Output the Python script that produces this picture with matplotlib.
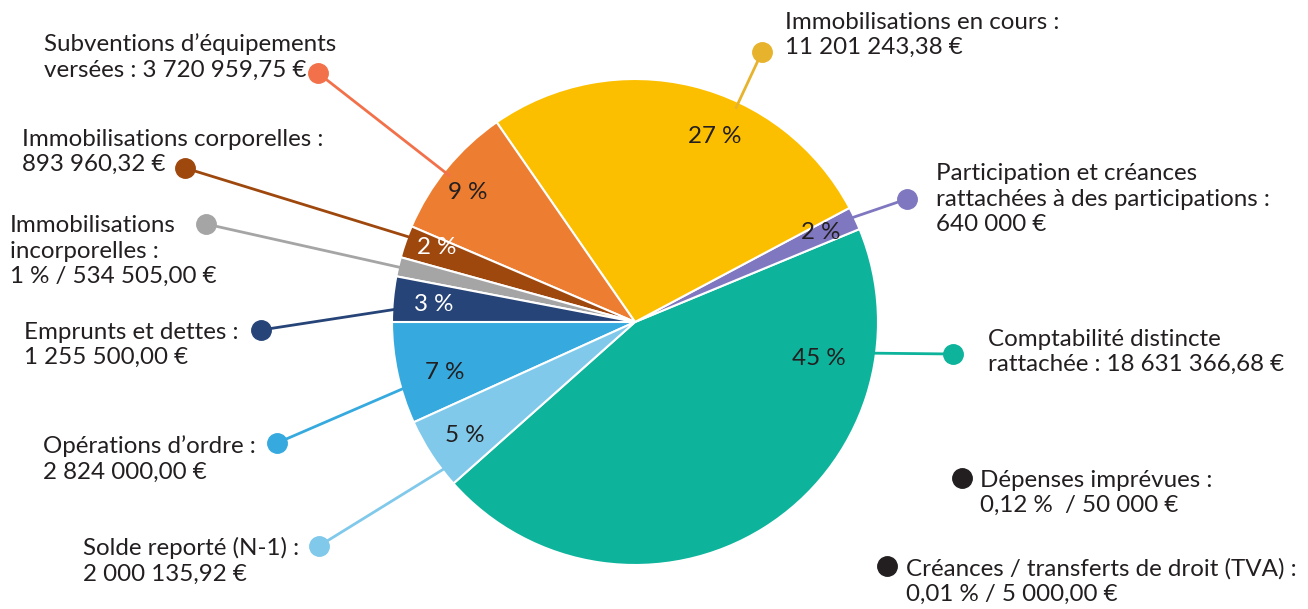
import numpy as np
import matplotlib
matplotlib.use("Agg")
import matplotlib.pyplot as plt

plt.rcParams['font.family'] = ['Lato', 'DejaVu Sans']

# data (pie order, counterclockwise starting with the big green slice)
names = [
    "Comptabilité distincte\nrattachée : 18 631 366,68 €",
    "Participation et créances\nrattachées à des participations :\n640 000 €",
    "Immobilisations en cours :\n11 201 243,38 €",
    "Subventions d’équipements\nversées : 3 720 959,75 €",
    "Immobilisations corporelles :\n893 960,32 €",
    "Immobilisations\nincorporelles :\n1 % / 534 505,00 €",
    "Emprunts et dettes :\n1 255 500,00 €",
    "Opérations d’ordre :\n2 824 000,00 €",
    "Solde reporté (N-1) :\n2 000 135,92 €",
]
values = [18631366.68, 640000.00, 11201243.38, 3720959.75, 893960.32,
          534505.00, 1255500.00, 2824000.00, 2000135.92]

# tiny items not visible in the pie
extra_names = ["Dépenses imprévues :\n0,12 %  / 50 000 €",
               "Créances / transferts de droit (TVA) :\n0,01 % / 5 000,00 €"]
extra_values = [50000.00, 5000.00]

colors = ["#0DB39B", "#7F78C0", "#FCBF00", "#ED7D31", "#9E480E",
          "#A5A5A5", "#264478", "#36AADE", "#80C9EB"]
dot_colors = ["#0DB39B", "#7F78C0", "#E8B32C", "#F2714A", "#9E480E",
              "#A5A5A5", "#264478", "#36AADE", "#80C9EB"]
pct_colors = ["#231F20", "#231F20", "#231F20", "#231F20", "white",
              None, "white", "#231F20", "#231F20"]

# layout (image pixel coords, y down)
W, H = 1308, 609
cx, cy, R = 635, 322, 243
text_xy = [(988, 352), (936, 199), (785, 35), (44, 57), (22, 152),
           (10, 251), (24, 345), (43, 459), (83, 561)]
dot_xy = [(953, 354), (907, 199), (762, 52), (318, 73), (185, 168),
          (206, 224), (261, 330), (277, 443), (319, 546)]
line_frac = [0.813, 0.6, 0.38, 0.53, 0.32, 0.51, 0.70, 0.65, 0.77]
pct_frac = [0.79, 0.59, 0.40, 0.55, 0.34, 0.5, 0.53, 0.61, 0.54]
pct_rad = [0.77, 0.85, 0.83, 0.87, 0.87, 0.85, 0.83, 0.81, 0.84]
extra_dot = [(962, 478), (887, 566)]
extra_text = [(980, 493), (906, 581)]

TXT = "#231F20"
FS = 17.4

total = sum(values) + sum(extra_values)
startangle = -138.35

fig = plt.figure(figsize=(W / 100, H / 100), dpi=100)
ax = fig.add_axes([0, 0, 1, 1])
wedges, _ = ax.pie(values, colors=colors, startangle=startangle, counterclock=True,
                   center=(cx, H - cy), radius=R,
                   wedgeprops=dict(edgecolor="white", linewidth=1.5))
ax.set_xlim(0, W)
ax.set_ylim(0, H)
ax.set_aspect("equal")
ax.axis("off")


def polar(theta, r):
    t = np.deg2rad(theta)
    return cx + r * R * np.cos(t), (H - cy) + r * R * np.sin(t)


for i, w in enumerate(wedges):
    span = w.theta2 - w.theta1
    # connector line + dot
    lx, ly = polar(w.theta1 + line_frac[i] * span, 0.97)
    dx, dy = dot_xy[i][0], H - dot_xy[i][1]
    ax.plot([lx, dx], [ly, dy], color=dot_colors[i], lw=2, solid_capstyle="butt", zorder=3)
    ax.plot(dx, dy, "o", color=dot_colors[i], ms=14, zorder=4)
    # outer label
    tx, ty = text_xy[i]
    ax.text(tx, H - ty, names[i], ha="left", va="center", fontsize=FS,
            color=TXT, linespacing=1.25)
    # percentage inside
    if pct_colors[i] is not None:
        px, py = polar(w.theta1 + pct_frac[i] * span, pct_rad[i])
        ax.text(px, py, "{:.0f} %".format(values[i] / total * 100), ha="center",
                va="center", fontsize=FS, color=pct_colors[i])

for i in range(len(extra_names)):
    dx, dy = extra_dot[i]
    ax.plot(dx, H - dy, "o", color=TXT, ms=14)
    tx, ty = extra_text[i]
    ax.text(tx, H - ty, extra_names[i], ha="left", va="center", fontsize=FS,
            color=TXT, linespacing=1.25)

fig.savefig("out.png", dpi=100, facecolor="white")
